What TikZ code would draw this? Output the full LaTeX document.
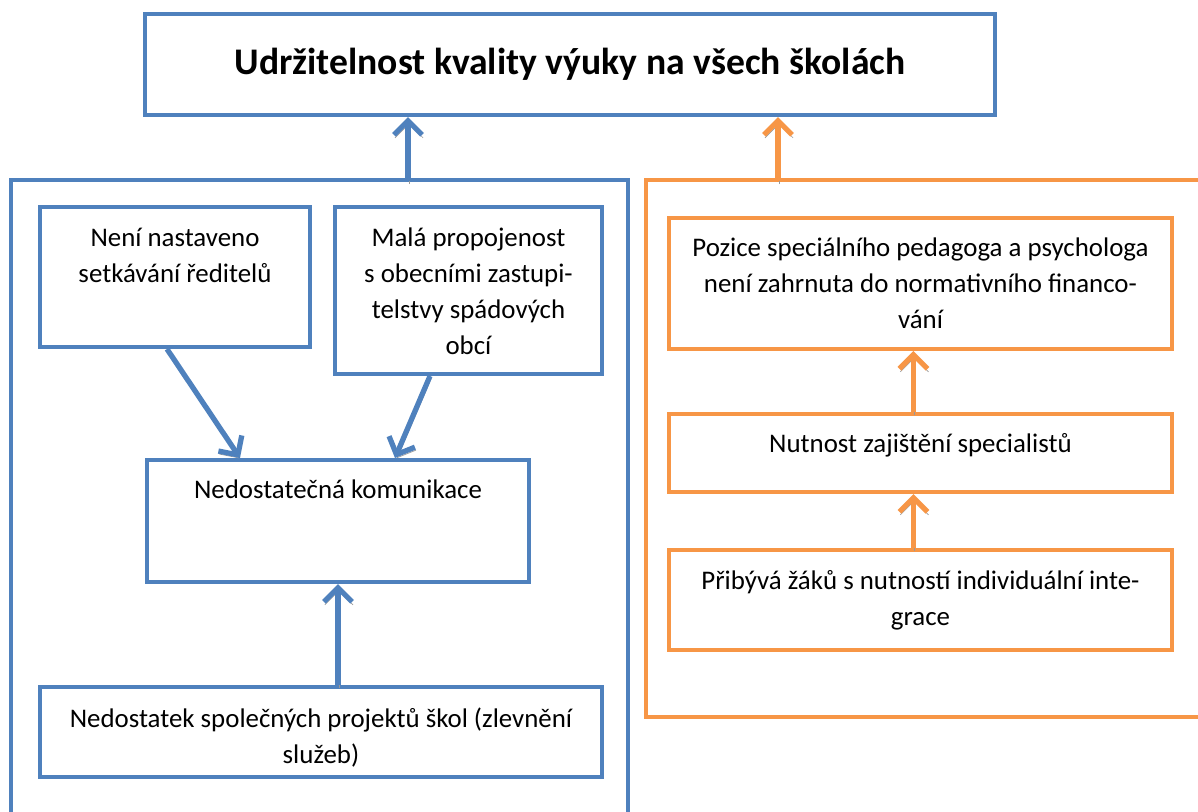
\documentclass[tikz,border=0pt]{standalone}
\usepackage{fontspec}
\setmainfont{Carlito}
\usetikzlibrary{shapes,arrows.meta,positioning,calc}
\definecolor{ublue}{HTML}{4F81BD}
\definecolor{uorange}{HTML}{F79646}

\begin{document}
\begin{tikzpicture}[x=0.02cm, y=-0.02cm, every node/.style={font=\fontsize{15.3}{20.5}\selectfont},
	box/.style={rectangle, draw, line width=2.3pt, anchor=north west, inner sep=0pt},
	txt/.style={align=center, inner sep=0pt},
	arr/.style={line width=3pt, -{Straight Barb[length=8pt,width=16pt]},
		preaction={draw=black!40, transform canvas={shift={(1,3)}}}}]
	\useasboundingbox (0,0) rectangle (1198,812);
	\clip (0,0) rectangle (1198,812);

	% frames of the two groups
	\draw[ublue, line width=2.3pt] (11,180) rectangle (628,840);
	\draw[uorange, line width=2.3pt] (646,180) rectangle (1230,717);

	\node[box, draw=ublue, minimum width=17cm, minimum height=2.02cm, font=\fontsize{21.4}{26}\selectfont\bfseries] (goal) at (143,12) {Udržitelnost kvality výuky na všech školách};

	% left group
	\node[box, draw=ublue, minimum width=5.4cm, minimum height=2.8cm] (nast) at (38,205) {};
	\node[txt, below=0.46cm of nast.north] (nasttxt) {Není nastaveno\\setkávání ředitelů};
	\node[box, draw=ublue, minimum width=5.34cm, minimum height=3.34cm] (mala) at (333,205) {};
	\node[txt, below=0.44cm of mala.north] (malatxt) {Malá propojenost\\s obecními zastupi-\\telstvy spádových\\obcí};
	\node[box, draw=ublue, minimum width=7.64cm, minimum height=2.44cm] (kom) at (145,458) {};
	\node[txt, below=0.42cm of kom.north] (komtxt) {Nedostatečná komunikace};
	\node[box, draw=ublue, minimum width=11.24cm, minimum height=1.8cm] (proj) at (38,685) {};
	\node[txt, below=0.44cm of proj.north] (projtxt) {Nedostatek společných projektů škol (zlevnění\\služeb)};

	% right group
	\node[box, draw=uorange, minimum width=10.06cm, minimum height=2.62cm] (pozice) at (667,216) {};
	\node[txt, below=0.42cm of pozice.north] (pozicetxt) {Pozice speciálního pedagoga a psychologa\\není zahrnuta do normativního financo-\\vání};
	\node[box, draw=uorange, minimum width=10.06cm, minimum height=1.56cm] (nut) at (667,412) {};
	\node[txt, below=0.42cm of nut.north] (nuttxt) {Nutnost zajištění specialistů};
	\node[box, draw=uorange, minimum width=10.06cm, minimum height=2cm] (pribyva) at (667,548) {};
	\node[txt, below=0.44cm of pribyva.north] (pribyvatxt) {Přibývá žáků s nutností individuální inte-\\grace};

	% arrows
	\coordinate (lgrp) at (408,181);
	\coordinate (rgrp) at (778,181);
	\draw[arr, ublue] (lgrp) -- (lgrp |- goal.south);
	\draw[arr, uorange] (rgrp) -- (rgrp |- goal.south);
	\draw[arr, ublue] ($(nast.south)+(-8,0)$) -- ($(kom.north west)+(95,0)$);
	\draw[arr, ublue] ($(mala.south west)+(97,0)$) -- ($(kom.north west)+(250,0)$);
	\draw[arr, ublue] (proj.north -| kom.south) -- (kom.south);
	\draw[arr, uorange] ($(nut.north)+(-7,0)$) -- ($(pozice.south)+(-7,0)$);
	\draw[arr, uorange] ($(pribyva.north)+(-7,0)$) -- ($(nut.south)+(-7,0)$);
\end{tikzpicture}
\end{document}
